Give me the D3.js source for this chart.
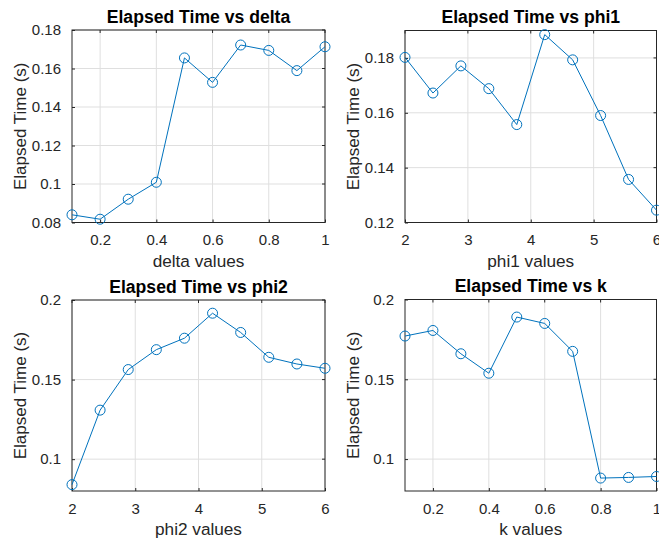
<!DOCTYPE html>
<html>
<head>
<meta charset="utf-8">
<script src="https://cdn.jsdelivr.net/npm/d3@7"></script>
<style>
  html, body { margin: 0; padding: 0; background: #ffffff; }
  svg { display: block; font-family: "Liberation Sans", Arial, Helvetica, sans-serif; }
</style>
</head>
<body>
<svg id="chart" width="659" height="541"></svg>
<script>
// ---- Data ----
const deltaValues = [0.1, 0.2, 0.3, 0.4, 0.5, 0.6, 0.7, 0.8, 0.9, 1.0];
const deltaTimes  = [0.0840, 0.0817, 0.0921, 0.1009, 0.1655, 0.1528, 0.1722, 0.1694, 0.1589, 0.1713];

const phi1Values = [2, 2.4444, 2.8889, 3.3333, 3.7778, 4.2222, 4.6667, 5.1111, 5.5556, 6];
const phi1Times  = [0.1802, 0.1672, 0.1771, 0.1688, 0.1557, 0.1885, 0.1793, 0.1590, 0.1357, 0.1245];

const phi2Values = [2, 2.4444, 2.8889, 3.3333, 3.7778, 4.2222, 4.6667, 5.1111, 5.5556, 6];
const phi2Times  = [0.0840, 0.1308, 0.1563, 0.1688, 0.1760, 0.1917, 0.1796, 0.1640, 0.1598, 0.1571];

const kValues = [0.1, 0.2, 0.3, 0.4, 0.5, 0.6, 0.7, 0.8, 0.9, 1.0];
const kTimes  = [0.1771, 0.1806, 0.1660, 0.1538, 0.1890, 0.1850, 0.1675, 0.0881, 0.0885, 0.0891];

// tick labels
const deltaXTicks = [0.2, 0.4, 0.6, 0.8, 1];
const deltaYTicks = [0.08, 0.1, 0.12, 0.14, 0.16, 0.18];
const phi1XTicks  = [2, 3, 4, 5, 6];
const phi1YTicks  = [0.12, 0.14, 0.16, 0.18];
const phi2XTicks  = [2, 3, 4, 5, 6];
const phi2YTicks  = [0.1, 0.15, 0.2];
const kXTicks     = [0.2, 0.4, 0.6, 0.8, 1];
const kYTicks     = [0.1, 0.15, 0.2];

// axis limits
const deltaXLim = [0.1, 1], deltaYLim = [0.08, 0.18];
const phi1XLim  = [2, 6],   phi1YLim  = [0.12, 0.19];
const phi2XLim  = [2, 6],   phi2YLim  = [0.08, 0.2];
const kXLim     = [0.1, 1], kYLim     = [0.08, 0.2];

const titles  = ["Elapsed Time vs delta", "Elapsed Time vs phi1", "Elapsed Time vs phi2", "Elapsed Time vs k"];
const xLabels = ["delta values", "phi1 values", "phi2 values", "k values"];
const yLabel  = "Elapsed Time (s)";

// ---- Layout ----
const panels = [
  { xs: deltaValues, ys: deltaTimes, xt: deltaXTicks, yt: deltaYTicks, xl: deltaXLim, yl: deltaYLim, box: {l: 72,  r: 325,   t: 30,  b: 222.5} },
  { xs: phi1Values,  ys: phi1Times,  xt: phi1XTicks,  yt: phi1YTicks,  xl: phi1XLim,  yl: phi1YLim,  box: {l: 405, r: 656.5, t: 30.5, b: 222.5} },
  { xs: phi2Values,  ys: phi2Times,  xt: phi2XTicks,  yt: phi2YTicks,  xl: phi2XLim,  yl: phi2YLim,  box: {l: 72,  r: 325,   t: 300, b: 491} },
  { xs: kValues,     ys: kTimes,     xt: kXTicks,     yt: kYTicks,     xl: kXLim,     yl: kYLim,     box: {l: 405, r: 656.5, t: 299.5, b: 491} }
];

const fmt = v => String(parseFloat((+v).toFixed(4)));
const svg = d3.select("#chart");
const lineColor = "#0072BD";
const axisColor = "#262626";
const gridColor = "#dfdfdf";
const tickLen = 3;

panels.forEach((p, i) => {
  const {l, r, t, b} = p.box;
  const x = d3.scaleLinear().domain(p.xl).range([l, r]);
  const y = d3.scaleLinear().domain(p.yl).range([b, t]);
  const g = svg.append("g");

  // grid
  g.append("g").selectAll("line").data(p.xt).join("line")
    .attr("x1", d => x(d)).attr("x2", d => x(d)).attr("y1", t).attr("y2", b)
    .attr("stroke", gridColor).attr("stroke-width", 1);
  g.append("g").selectAll("line").data(p.yt).join("line")
    .attr("y1", d => y(d)).attr("y2", d => y(d)).attr("x1", l).attr("x2", r)
    .attr("stroke", gridColor).attr("stroke-width", 1);

  // bottom axis
  const xAxis = d3.axisBottom(x).tickValues(p.xt).tickFormat(fmt).tickSizeInner(-tickLen).tickSizeOuter(0).tickPadding(12);
  const gx = g.append("g").attr("transform", `translate(0,${b})`).call(xAxis);
  gx.select(".domain").remove();
  gx.selectAll(".tick line").attr("stroke", axisColor);
  gx.selectAll(".tick text").attr("fill", axisColor).attr("font-size", 15)
    .attr("font-family", '"Liberation Sans", Arial, sans-serif');

  // left axis
  const yAxis = d3.axisLeft(y).tickValues(p.yt).tickFormat(fmt).tickSizeInner(-tickLen).tickSizeOuter(0).tickPadding(11);
  const gy = g.append("g").attr("transform", `translate(${l},0)`).call(yAxis);
  gy.select(".domain").remove();
  gy.selectAll(".tick line").attr("stroke", axisColor);
  gy.selectAll(".tick text").attr("fill", axisColor).attr("font-size", 15)
    .attr("font-family", '"Liberation Sans", Arial, sans-serif');

  // mirrored ticks on top/right
  g.append("g").selectAll("line").data(p.xt).join("line")
    .attr("x1", d => x(d)).attr("x2", d => x(d)).attr("y1", t).attr("y2", t + tickLen)
    .attr("stroke", axisColor);
  g.append("g").selectAll("line").data(p.yt).join("line")
    .attr("y1", d => y(d)).attr("y2", d => y(d)).attr("x1", r).attr("x2", r - tickLen)
    .attr("stroke", axisColor);

  // box
  g.append("rect").attr("x", l).attr("y", t).attr("width", r - l).attr("height", b - t)
    .attr("fill", "none").attr("stroke", axisColor).attr("stroke-width", 1);

  // data
  const pts = p.xs.map((xv, j) => [xv, p.ys[j]]);
  const line = d3.line().x(d => x(d[0])).y(d => y(d[1]));
  g.append("path").datum(pts).attr("d", line)
    .attr("fill", "none").attr("stroke", lineColor).attr("stroke-width", 1);
  g.append("g").selectAll("circle").data(pts).join("circle")
    .attr("cx", d => x(d[0])).attr("cy", d => y(d[1])).attr("r", 5)
    .attr("fill", "none").attr("stroke", lineColor).attr("stroke-width", 1);

  // title
  g.append("text").attr("x", (l + r) / 2).attr("y", t - 7.5)
    .attr("text-anchor", "middle").attr("font-size", 17.6).attr("font-weight", "bold")
    .attr("fill", "#000").text(titles[i]);

  // x label
  g.append("text").attr("x", (l + r) / 2).attr("y", b + 44)
    .attr("text-anchor", "middle").attr("font-size", 17.2)
    .attr("fill", axisColor).text(xLabels[i]);

  // y label
  g.append("text")
    .attr("transform", `translate(${l - 46},${(t + b) / 2}) rotate(-90)`)
    .attr("text-anchor", "middle").attr("font-size", 17)
    .attr("fill", axisColor).text(yLabel);
});
</script>
</body>
</html>
